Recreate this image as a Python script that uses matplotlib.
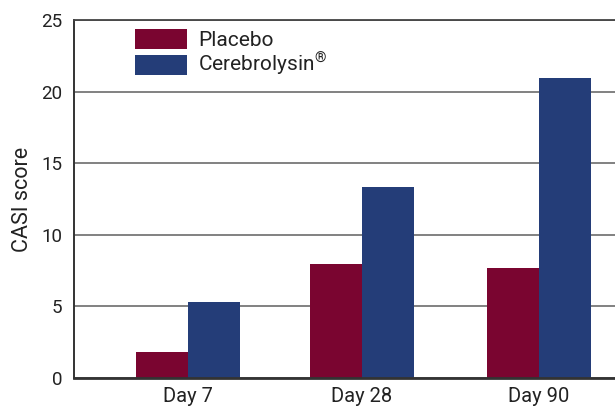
import matplotlib
matplotlib.use("Agg")
import matplotlib.pyplot as plt
import numpy as np

categories = ["Day 7", "Day 28", "Day 90"]
placebo = [1.8, 7.95, 7.7]
cerebrolysin = [5.3, 13.35, 20.95]
series_labels = ["Placebo", "Cerebrolysin$^{\\mathrm{\u00ae}}$"]
yticks = [0, 5, 10, 15, 20, 25]

plt.rcParams['font.family'] = ['Roboto', 'DejaVu Sans']
plt.rcParams['mathtext.fontset'] = 'custom'
plt.rcParams['mathtext.rm'] = 'Roboto'
plt.rcParams['mathtext.it'] = 'Roboto'
plt.rcParams['mathtext.bf'] = 'Roboto'

TXT = '#222222'
fig = plt.figure(figsize=(6.15, 4.08), dpi=100)
ax = fig.add_axes([74/615, 1-378/408, 1-74/615, (378-20)/408])

x = np.array([0.0, 0.99, 2.0])
w = 0.296
ax.bar(x - w/2, placebo, w, color='#7a0530', label=series_labels[0], zorder=3)
ax.bar(x + w/2, cerebrolysin, w, color='#243d78', label=series_labels[1], zorder=3)

ax.set_xlim(-0.65, 2.433)
ax.set_ylim(0, 25)
ax.set_yticks(yticks)
ax.set_xticks(x)
ax.set_xticklabels(categories, fontsize=14.5, color=TXT)
ax.tick_params(axis='x', length=0, pad=6.5)
ax.tick_params(axis='y', length=0, labelsize=13.5, labelcolor=TXT, pad=8.6)
ax.yaxis.grid(True, color='#777777', lw=1.3, zorder=1)
ax.set_axisbelow(True)
ax.spines['right'].set_visible(False)
ax.spines['top'].set_color('#444444')
ax.spines['top'].set_linewidth(1.3)
ax.spines['left'].set_color('#333333')
ax.spines['left'].set_linewidth(1.4)
ax.spines['bottom'].set_color('#333333')
ax.spines['bottom'].set_linewidth(2)
ax.spines['bottom'].set_zorder(4)
ax.set_ylabel("CASI score", fontsize=15.5, color=TXT, labelpad=6)

leg = ax.legend(loc='upper left', bbox_to_anchor=(135/615, 1-29/408), bbox_transform=fig.transFigure,
                frameon=False, fontsize=15, handlelength=2.5, handleheight=1.1,
                labelspacing=0.05, borderpad=0, borderaxespad=0, handletextpad=0.53)
for t in leg.get_texts():
    t.set_color(TXT)

fig.savefig("out.png", dpi=100)
